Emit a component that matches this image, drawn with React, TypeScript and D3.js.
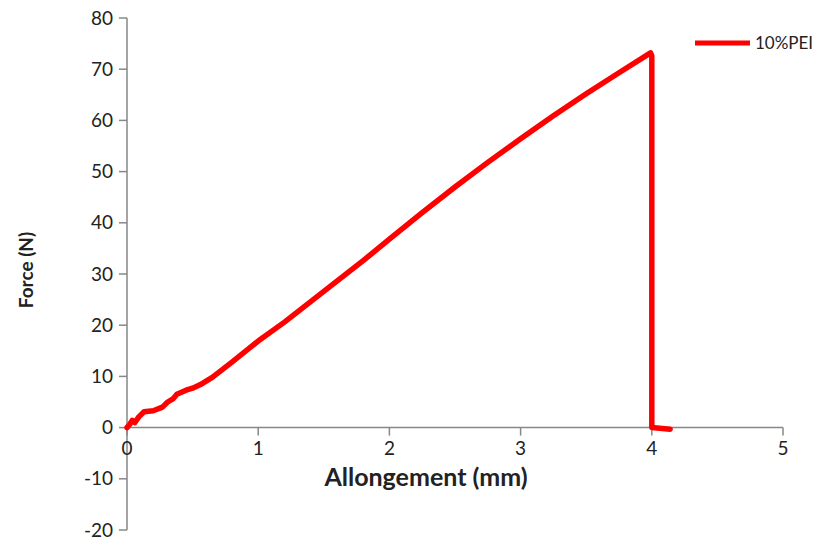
import React from "react";
import * as d3 from "d3";

const elongation = [0, 0.02, 0.04, 0.06, 0.09, 0.13, 0.2, 0.27, 0.31, 0.35, 0.38, 0.45, 0.5, 0.56, 0.65, 0.8, 1.0, 1.2, 1.5, 1.8, 2.0, 2.25, 2.5, 2.75, 3.0, 3.25, 3.5, 3.75, 3.99, 4.0, 4.0, 4.14];
const force = [0, 0.6, 1.4, 1.0, 2.1, 3.1, 3.3, 4.0, 5.0, 5.6, 6.5, 7.3, 7.7, 8.4, 9.8, 12.8, 16.9, 20.6, 26.6, 32.6, 36.8, 42.0, 47.0, 51.8, 56.4, 60.9, 65.2, 69.3, 73.2, 72.6, 0, -0.3];
const xTicks = [0, 1, 2, 3, 4, 5];
const yTicks = [-20, -10, 0, 10, 20, 30, 40, 50, 60, 70, 80];
const seriesName = "10%PEI";

export default function App() {
  const W = 834, H = 541;
  const x = d3.scaleLinear().domain([0, 5]).range([127, 783]);
  const y = d3.scaleLinear().domain([-20, 80]).range([530, 18]);
  const line = d3.line<number>().x((_, i) => x(elongation[i])).y((d) => y(d));
  const axisColor = "#878787";
  const font = "Lato, 'Open Sans', sans-serif";
  return (
    <div style={{ position: "fixed", left: 0, top: 0 }}>
      <svg width={W} height={H} style={{ display: "block", background: "#fff" }}>
        {/* y axis */}
        <line x1={x(0)} x2={x(0)} y1={y(80)} y2={y(-20)} stroke={axisColor} strokeWidth={1.5} />
        {yTicks.map((t) => (
          <g key={"y" + t}>
            <line x1={x(0) - 8} x2={x(0)} y1={y(t)} y2={y(t)} stroke={axisColor} strokeWidth={1.5} />
            <text x={x(0) - 14} y={y(t)} dy="0.35em" textAnchor="end" fontFamily={font} fontSize={19} fill="#222">
              {t < 0 ? "-" + Math.abs(t) : t}
            </text>
          </g>
        ))}
        {/* x axis */}
        <line x1={x(0)} x2={x(5)} y1={y(0)} y2={y(0)} stroke={axisColor} strokeWidth={1.5} />
        {xTicks.map((t) => (
          <g key={"x" + t}>
            <line x1={x(t)} x2={x(t)} y1={y(0)} y2={y(0) + 8} stroke={axisColor} strokeWidth={1.5} />
            <text x={x(t)} y={y(0) + 14} dy="0.71em" textAnchor="middle" fontFamily={font} fontSize={19} fill="#222">
              {t}
            </text>
          </g>
        ))}
        {/* series */}
        <path d={line(force) || ""} fill="none" stroke="#ff0000" strokeWidth={5.5} strokeLinejoin="round" strokeLinecap="round" />
        {/* axis titles */}
        <text transform={`translate(26,${270}) rotate(-90)`} textAnchor="middle" dy="0.35em" fontFamily={font} fontWeight="bold" fontSize={19} fill="#222">
          Force (N)
        </text>
        <text x={426} y={477} textAnchor="middle" dy="0.35em" fontFamily={font} fontWeight="bold" fontSize={25} fill="#222">
          Allongement (mm)
        </text>
        {/* legend */}
        <line x1={695} x2={750} y1={43} y2={43} stroke="#ff0000" strokeWidth={5} />
        <text x={755} y={43} dy="0.35em" fontFamily={font} fontSize={17} fill="#222">
          {seriesName}
        </text>
      </svg>
    </div>
  );
}
